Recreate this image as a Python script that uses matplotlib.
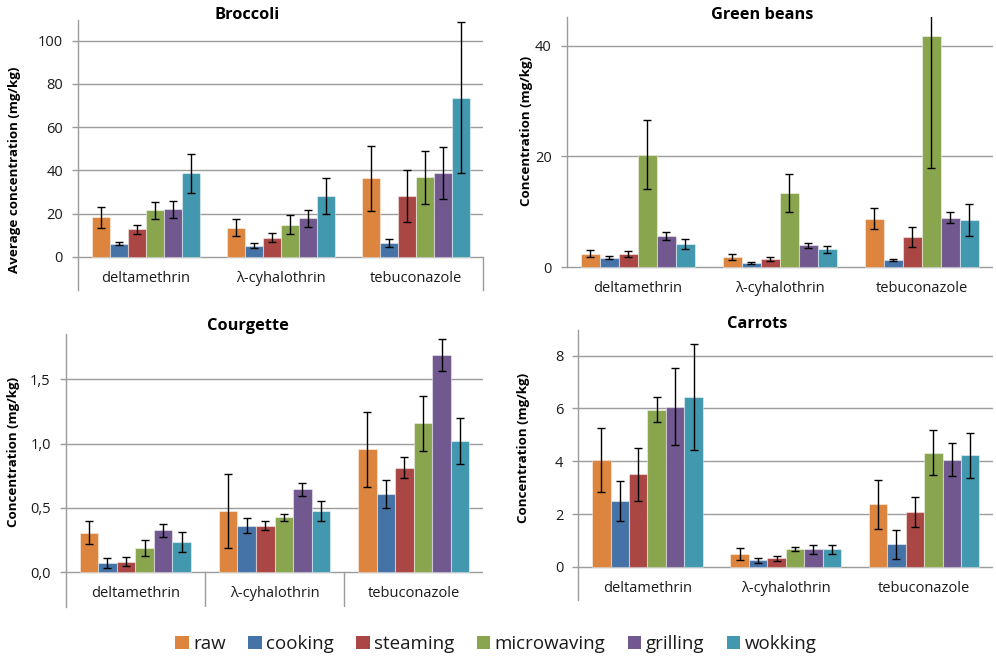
import numpy as np
import matplotlib
matplotlib.use("Agg")
import matplotlib.pyplot as plt
from matplotlib.patches import Patch

plt.rcParams['font.family'] = ['Open Sans', 'DejaVu Sans']

# ---- data -----------------------------------------------------------------
pesticides = ["deltamethrin", "λ-cyhalothrin", "tebuconazole"]
treatments = ["raw", "cooking", "steaming", "microwaving", "grilling", "wokking"]
colors = ["#DD843E", "#4573A7", "#AA4643", "#89A54E", "#71588F", "#4298AF"]

# rows: treatments, columns: pesticides
broccoli_mean = [[18.3, 13.6, 36.4],
                 [6.2, 5.2, 6.5],
                 [12.8, 8.9, 28.0],
                 [21.6, 14.9, 36.8],
                 [22.0, 17.9, 38.8],
                 [38.8, 28.0, 73.7]]
broccoli_err = [[4.7, 4.0, 15.0],
                [0.8, 1.3, 1.9],
                [2.0, 2.0, 12.0],
                [4.0, 4.5, 12.4],
                [3.8, 3.9, 11.9],
                [9.0, 8.3, 35.0]]

beans_mean = [[2.47, 1.86, 8.78],
              [1.74, 0.78, 1.32],
              [2.47, 1.50, 5.41],
              [20.3, 13.4, 41.7],
              [5.6, 3.97, 8.96],
              [4.15, 3.25, 8.48]]
beans_err = [[0.65, 0.55, 1.9],
             [0.27, 0.18, 0.2],
             [0.55, 0.42, 1.8],
             [6.2, 3.45, 23.7],
             [0.75, 0.4, 1.0],
             [0.9, 0.6, 2.9]]

courgette_mean = [[0.308, 0.477, 0.956],
                  [0.075, 0.363, 0.606],
                  [0.083, 0.363, 0.813],
                  [0.189, 0.427, 1.158],
                  [0.326, 0.645, 1.689],
                  [0.236, 0.477, 1.021]]
courgette_err = [[0.088, 0.29, 0.29],
                 [0.039, 0.06, 0.108],
                 [0.033, 0.037, 0.08],
                 [0.065, 0.028, 0.216],
                 [0.048, 0.053, 0.127],
                 [0.076, 0.08, 0.18]]

carrots_mean = [[4.06, 0.50, 2.38],
                [2.50, 0.25, 0.86],
                [3.51, 0.33, 2.08],
                [5.96, 0.67, 4.33],
                [6.06, 0.67, 4.06],
                [6.44, 0.67, 4.23]]
carrots_err = [[1.21, 0.22, 0.93],
               [0.75, 0.10, 0.54],
               [1.01, 0.10, 0.58],
               [0.47, 0.07, 0.86],
               [1.46, 0.16, 0.63],
               [2.00, 0.16, 0.85]]

broccoli_ticks = [0, 20, 40, 60, 80, 100]
beans_ticks = [0, 20, 40]
courgette_ticks = [0.0, 0.5, 1.0, 1.5]
carrots_ticks = [0, 2, 4, 6, 8]

# ---- layout ---------------------------------------------------------------
W, H = 996, 658
fig = plt.figure(figsize=(W / 100, H / 100), dpi=100)
fig.patch.set_facecolor("white")

GRID = "#9c9c9c"
TXT = "#1a1a1a"


def px_axes(x0, x1, y_top, y_bot):
    return fig.add_axes([x0 / W, 1 - y_bot / H, (x1 - x0) / W, (y_bot - y_top) / H])


def panel(ax, means, errs, ticks, ylim, ticklabels, title, title_xy, ylabel,
          ylabel_xy, full_left=True, right_line=False, separators=False):
    means = np.asarray(means)
    errs = np.asarray(errs)
    n = len(treatments)
    x = np.arange(len(pesticides))
    group = 0.8
    w = group / n
    for i in range(n):
        pos = x - group / 2 + w * (i + 0.5)
        ax.bar(pos, means[i], width=w, color=colors[i],
               edgecolor=(1, 1, 1, 0.45), linewidth=0.8, zorder=2)
        ax.errorbar(pos, means[i], yerr=errs[i], fmt="none", ecolor="black",
                    elinewidth=1.0, capsize=2.6, capthick=1.0, zorder=3)
    ax.set_xlim(-0.5, len(pesticides) - 0.5)
    ax.set_ylim(*ylim)
    ax.set_yticks(ticks)
    ax.set_yticklabels(ticklabels)
    ax.set_xticks([])
    for t in ticks:
        ax.axhline(t, color=GRID, lw=1.0, zorder=1)
    for s in ["top", "right", "bottom"]:
        ax.spines[s].set_visible(False)
    ax.spines["left"].set_color(GRID)
    ax.spines["left"].set_linewidth(1.0)
    if not full_left:
        ax.spines["left"].set_bounds(0, ylim[1])
    ax.tick_params(axis="y", length=4.3, width=1.0, color=GRID, pad=6.5,
                   labelsize=10.5, labelcolor=TXT)
    frac0 = (0 - ylim[0]) / (ylim[1] - ylim[0])
    if right_line:
        ax.axvline(len(pesticides) - 0.5, ymin=0, ymax=frac0, color=GRID,
                   lw=1.0, clip_on=False)
    if separators:
        for b in np.arange(len(pesticides) - 1) + 0.5:
            ax.axvline(b, ymin=0, ymax=frac0, color=GRID, lw=1.0)
    for xi, name in zip(x, pesticides):
        ax.annotate(name, xy=(xi, 0), xytext=(0, -21.5),
                    textcoords="offset pixels", ha="center", va="center",
                    fontsize=10.5, color=TXT)
    fig.text(title_xy[0] / W, 1 - title_xy[1] / H, title, ha="center",
             va="center", fontsize=11.8, fontweight="bold", color="black")
    fig.text(ylabel_xy[0] / W, 1 - ylabel_xy[1] / H, ylabel, ha="center",
             va="center", rotation=90, fontsize=9.6, fontweight="bold",
             color="black")


ax1 = px_axes(78, 483, 20, 290)
panel(ax1, broccoli_mean, broccoli_err, broccoli_ticks, (-15.3, 109.6),
      [str(t) for t in broccoli_ticks], "Broccoli", (247, 15),
      "Average concentration (mg/kg)", (15, 170), right_line=True)

ax2 = px_axes(566.7, 992.7, 17.3, 300)
panel(ax2, beans_mean, beans_err, beans_ticks, (-5.9, 45.1),
      [str(t) for t in beans_ticks], "Green beans", (762, 15),
      "Concentration (mg/kg)", (526, 131), full_left=False)

ax3 = px_axes(65.7, 483.3, 334, 606.7)
panel(ax3, courgette_mean, courgette_err, courgette_ticks, (-0.267, 1.852),
      [f"{t:.1f}".replace(".", ",") for t in courgette_ticks], "Courgette",
      (248, 326), "Concentration (mg/kg)", (14, 452), separators=True)

ax4 = px_axes(578.3, 993.3, 330, 600)
panel(ax4, carrots_mean, carrots_err, carrots_ticks, (-1.25, 8.97),
      [str(t) for t in carrots_ticks], "Carrots", (757, 324),
      "Concentration (mg/kg)", (524, 448))

handles = [Patch(facecolor=c, edgecolor="none") for c in colors]
fig.legend(handles, treatments, loc="center", bbox_to_anchor=(496 / W, 1 - 644 / H),
           ncol=6, frameon=False, fontsize=13.5, handlelength=0.7,
           handleheight=0.7, handletextpad=0.25, columnspacing=1.2,
           labelcolor=TXT, borderpad=0, borderaxespad=0)

fig.savefig("out.png", dpi=100)
